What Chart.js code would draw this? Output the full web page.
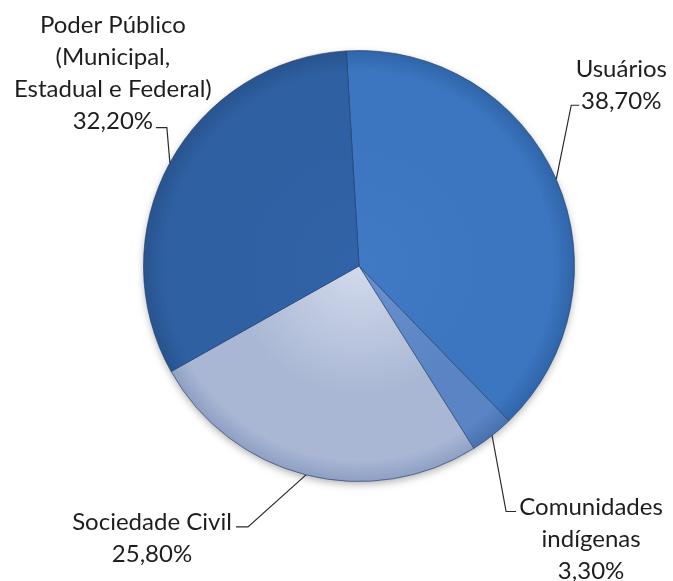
<!DOCTYPE html>
<html>
<head>
<meta charset="utf-8">
<script src="https://cdn.jsdelivr.net/npm/chart.js@4/dist/chart.umd.min.js"></script>
<style>
  body { margin: 0; background: #ffffff; }
</style>
</head>
<body>
<canvas id="grafica" width="673" height="581"></canvas>
<script>
// Composicao por segmento (%)
const segmentos = ["Usuários", "Comunidades indígenas", "Sociedade Civil", "Poder Público (Municipal, Estadual e Federal)"];
const percentuais = [38.7, 3.3, 25.8, 32.2];
const rotulos = [
    ["Usuários", "38,70%"],
    ["Comunidades", "indígenas", "3,30%"],
    ["Sociedade Civil", "25,80%"],
    ["Poder Público", "(Municipal,", "Estadual e Federal)", "32,20%"]
];

// cores: [centro, meio, borda] de cada fatia
const cores = [
    ["#4079c4", "#3c76c0", "#2f64a8"],
    ["#6a91cc", "#5a84c3", "#4670ae"],
    ["#d2daec", "#a9b7d4", "#8d9fc3"],
    ["#3163a8", "#2f60a2", "#28548f"]
];

// onde vai cada linha de chamada e o texto (relativo ao ponto no arco)
const chamadas = [
    {cotovelo: [15, -74], fim: [23, -74], texto: [42, -36]},
    {cotovelo: [14, 76], fim: [24, 76], texto: [75, -4]},
    {cotovelo: [-58, 52], fim: [-70, 52], texto: [-84, -5]},
    {cotovelo: [-3, -35], fim: [-14, -35], texto: [-43, -102]}
];

function preenchimento(ctx) {
    var chart = ctx.chart;
    var area = chart.chartArea;
    var c = cores[ctx.dataIndex];
    if (!area) {
        return c[1];
    }
    var cx = (area.left + area.right) / 2;
    var cy = (area.top + area.bottom) / 2;
    var r = Math.min(area.right - area.left, area.bottom - area.top) / 2;
    var g = chart.ctx.createRadialGradient(cx, cy, 0, cx, cy, r);
    g.addColorStop(0, c[0]);
    g.addColorStop(0.6, c[1]);
    g.addColorStop(0.9, c[1]);
    g.addColorStop(1, c[2]);
    return g;
}

// sombra suave por baixo da pizza
const sombra = {
    id: 'sombra',
    beforeDatasetsDraw(chart) {
        var arco = chart.getDatasetMeta(0).data[0];
        if (!arco) return;
        var ctx = chart.ctx;
        ctx.save();
        ctx.shadowColor = 'rgba(0,0,0,0.35)';
        ctx.shadowBlur = 8;
        ctx.shadowOffsetY = 3;
        ctx.fillStyle = '#ffffff';
        ctx.beginPath();
        ctx.arc(arco.x, arco.y, arco.outerRadius - 1, 0, Math.PI * 2);
        ctx.fill();
        ctx.restore();
    }
};

// rotulos com linha de chamada
const rotulosExternos = {
    id: 'rotulosExternos',
    afterDatasetsDraw(chart) {
        var ctx = chart.ctx;
        var meta = chart.getDatasetMeta(0);
        ctx.save();
        meta.data.forEach(function (arco, i) {
            var p = arco.getProps(['x', 'y', 'startAngle', 'endAngle', 'outerRadius'], true);
            var meio = (p.startAngle + p.endAngle) / 2;
            var ax = p.x + Math.cos(meio) * p.outerRadius;
            var ay = p.y + Math.sin(meio) * p.outerRadius;
            var ch = chamadas[i];
            var ex = ax + ch.fim[0], ey = ay + ch.fim[1];

            ctx.strokeStyle = '#2a2a2a';
            ctx.lineWidth = 1.2;
            ctx.beginPath();
            ctx.moveTo(ax, ay);
            ctx.lineTo(ax + ch.cotovelo[0], ay + ch.cotovelo[1]);
            ctx.lineTo(ex, ey);
            ctx.stroke();

            ctx.fillStyle = '#1e1e1e';
            ctx.font = '24px Lato';
            ctx.textAlign = 'center';
            ctx.textBaseline = 'middle';
            var linhas = rotulos[i];
            for (var k = 0; k < linhas.length; k++) {
                ctx.fillText(linhas[k], ex + ch.texto[0], ey + ch.texto[1] + k * 32);
            }
        });
        ctx.restore();
    }
};

var pizza = new Chart("grafica", {
    type: 'pie',
    data: {
        labels: segmentos,
        datasets: [{
            data: percentuais,
            backgroundColor: preenchimento,
            borderColor: 'rgba(25, 55, 100, 0.6)',
            borderWidth: 1
        }]
    },
    options: {
        responsive: false,
        animation: false,
        rotation: -3.4,
        layout: {
            padding: {left: 143, right: 98, top: 50, bottom: 99}
        },
        plugins: {
            legend: {display: false},
            tooltip: {enabled: false}
        }
    },
    plugins: [sombra, rotulosExternos]
});
</script>
</body>
</html>
